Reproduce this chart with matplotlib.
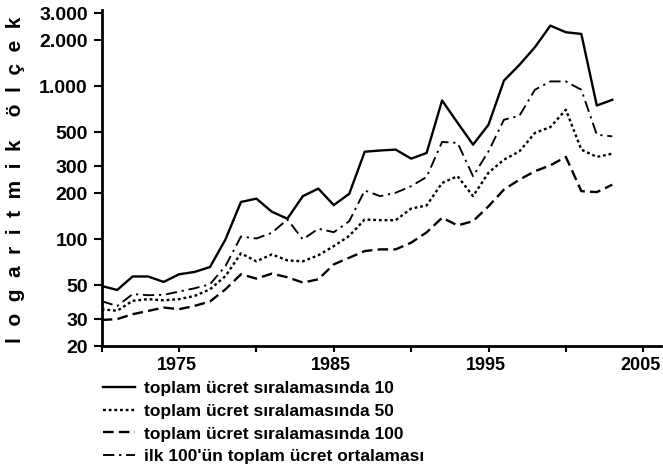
import matplotlib
matplotlib.use("Agg")
import matplotlib.pyplot as plt
import matplotlib.transforms as mtrans
from matplotlib.ticker import FixedLocator, FixedFormatter, NullLocator

years = list(range(1970, 2004))

top10 = [49.4, 46.5, 57, 57, 52.5, 58.9, 61, 65.7, 99.6, 175, 184, 151, 136, 191, 214,
         167, 198, 373, 380, 385, 336, 366, 807, 577, 415, 560, 1089, 1380, 1800, 2490,
         2254, 2198, 748, 815]
top50 = [34.8, 34, 39.5, 40.5, 39.8, 40.5, 42.5, 47, 57.4, 80.7, 71.6, 79.5, 72.6, 71.6, 78.4,
         90, 105, 134.5, 133, 133, 158.5, 166, 233, 258, 191, 272, 331, 375, 495, 541,
         702, 385, 345, 362]
top100 = [29.6, 30, 32.3, 33.9, 35.7, 34.8, 36.6, 39.1, 47, 58.9, 55.2, 59.5, 56.3, 52, 54.6,
          68.4, 75.6, 83.6, 85.7, 85.7, 94.8, 110.7, 138, 123, 131, 164, 211, 245, 278, 304,
          345, 206, 203, 227]
avg100 = [39.3, 36.5, 43.7, 43, 43.2, 45.4, 47.7, 50.7, 66.7, 104, 101, 110, 134.5, 99.6, 117,
          111, 131, 208, 191, 201, 222, 255, 432, 426, 258, 375, 604, 641, 948, 1075,
          1075, 948, 482, 470]

labels = ["toplam ücret sıralamasında 10",
          "toplam ücret sıralamasında 50",
          "toplam ücret sıralamasında 100",
          "ilk 100'ün toplam ücret ortalaması"]

y_ticks = [20, 30, 50, 100, 200, 300, 500, 1000, 2000, 3000]
y_tick_labels = ["20", "30", "50", "100", "200", "300", "500", "1.000", "2.000", "3.000"]
x_ticks = [1970, 1975, 1980, 1985, 1990, 1995, 2000, 2005]
x_tick_labels = ["", "1975", "", "1985", "", "1995", "", "2005"]

plt.rcParams['font.family'] = ['Liberation Sans', 'DejaVu Sans']

fig = plt.figure(figsize=(6.63, 4.70), dpi=100)
ax = fig.add_axes([0.1534, 0.2638, 0.8436, 0.7149])

lw = 1.7
l1, = ax.plot(years, top10, color='black', lw=lw, linestyle='-')
l2, = ax.plot(years, top50, color='black', lw=lw, linestyle=(0, (1.2, 1.2)))
l3, = ax.plot(years, top100, color='black', lw=lw, linestyle=(0, (4.5, 2.2)))
l4, = ax.plot(years, avg100, color='black', lw=lw*0.8, linestyle=(0, (6, 2.5, 1.2, 2.5)))

ax.set_yscale('log')
ax.set_ylim(20, 3151)
ax.set_xlim(1970, 2006.15)

ax.yaxis.set_major_locator(FixedLocator(y_ticks))
ax.yaxis.set_major_formatter(FixedFormatter(y_tick_labels))
ax.yaxis.set_minor_locator(NullLocator())
ax.xaxis.set_major_locator(FixedLocator(x_ticks))
ax.xaxis.set_major_formatter(FixedFormatter(x_tick_labels))
ax.xaxis.set_minor_locator(NullLocator())

for s in ['top', 'right']:
    ax.spines[s].set_visible(False)
for s in ['left', 'bottom']:
    ax.spines[s].set_linewidth(2.0)

ax.tick_params(axis='y', direction='out', length=6, width=1.5, pad=4, labelsize=14)
ax.tick_params(axis='x', direction='out', length=4, width=1.5, pad=4, labelsize=13)
shift = mtrans.ScaledTranslation(-2.5 / 100, 0, fig.dpi_scale_trans)
for t in ax.get_xticklabels():
    t.set_fontweight('bold')
    t.set_transform(t.get_transform() + shift)
for t in ax.get_yticklabels():
    t.set_fontweight('bold')

fig.text(0.024, 0.617, "l  o  g  a  r  i  t  m  i  k    ö  l  ç  e  k", rotation=90,
         ha='center', va='center', fontsize=15, fontweight='bold')

leg = fig.legend([l1, l2, l3, l4], labels, loc='upper left',
                 bbox_to_anchor=(0.155, 0.189), bbox_transform=fig.transFigure,
                 frameon=False, borderpad=0, borderaxespad=0,
                 handlelength=1.85, handletextpad=0.55, labelspacing=0.43,
                 prop={'size': 12.5, 'weight': 'bold'})

fig.savefig("out.png", dpi=100)
